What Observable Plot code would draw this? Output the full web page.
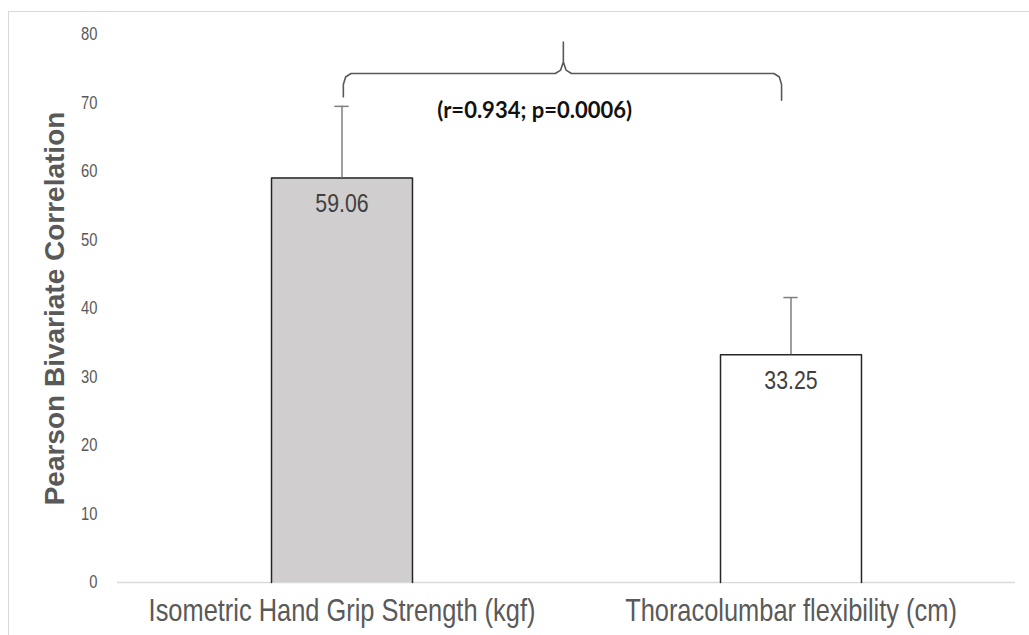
<!DOCTYPE html>
<html>
<head>
<meta charset="utf-8">
<script src="https://cdn.jsdelivr.net/npm/d3@7"></script>
<script src="https://cdn.jsdelivr.net/npm/@observablehq/plot@0.6"></script>
<style>
  html, body { margin: 0; padding: 0; background: #fff; overflow: hidden; }
  #frame { position: absolute; left: 8px; top: 11px; width: 1100px; height: 700px; border: 1.5px solid #d9d9d9; box-sizing: border-box; }
  #chart { position: absolute; left: 0; top: 0; }
</style>
</head>
<body>
<div id="frame"></div>
<div id="chart"></div>
<script>
// ---- data ----
const categories = ["Isometric Hand Grip Strength (kgf)", "Thoracolumbar flexibility (cm)"];
const means = [59.06, 33.25];
const errors = [10.45, 8.35];
const barFills = ["#d0cece", "#ffffff"];
const yTicks = [0, 10, 20, 30, 40, 50, 60, 70, 80];
const yLabel = "Pearson Bivariate Correlation";
const statLabel = "(r=0.934; p=0.0006)";
// brace annotation (x in category-slot units, y in data units)
const braceX = [0.503, 0.503, 0.508, 0.52, 0.975, 0.987, 0.993, 0.993, 0.993, 0.999, 1.011, 1.462, 1.474, 1.479, 1.479];
const braceY = [70.9, 72.7, 73.8, 74.3, 74.3, 74.8, 76.0, 78.9, 76.0, 74.8, 74.3, 74.3, 73.8, 72.7, 70.4];
const statPos = {x: 0.929, y: 68.9};

// ---- derived table ----
const half = 0.157;
const bars = categories.map((c, i) => ({
  cat: c, pos: i + 0.5, value: means[i], err: errors[i], fill: barFills[i]
}));
const outline = bars.flatMap(d => [
  {cat: d.cat, x: d.pos - half, y: 0},
  {cat: d.cat, x: d.pos - half, y: d.value},
  {cat: d.cat, x: d.pos + half, y: d.value},
  {cat: d.cat, x: d.pos + half, y: 0}
]);
const brace = braceX.map((x, i) => ({x, y: braceY[i]}));

const narrow = "'Liberation Sans', Arial, sans-serif"; // horizontally condensed after render
const sans = "'Liberation Sans', Arial, sans-serif";

const plot = Plot.plot({
  width: 1029,
  height: 635,
  marginLeft: 117,
  marginRight: 14,
  marginTop: 34,
  marginBottom: 53,
  style: {background: "transparent", overflow: "visible"},
  x: {type: "linear", domain: [0, 2], axis: null},
  y: {domain: [0, 80], axis: null},
  marks: [
    Plot.ruleY([0], {stroke: "#d9d9d9", strokeWidth: 1.5}),
    Plot.rectY(bars, {x1: d => d.pos - half, x2: d => d.pos + half, y1: 0, y2: "value", fill: d => d.fill}),
    Plot.line(outline, {x: "x", y: "y", z: "cat", stroke: "#262626", strokeWidth: 1.5}),
    Plot.ruleX(bars, {x: "pos", y1: "value", y2: d => d.value + d.err, stroke: "#7f7f7f", strokeWidth: 1.5}),
    Plot.ruleY(bars, {y: d => d.value + d.err, x1: d => d.pos - 0.016, x2: d => d.pos + 0.016, stroke: "#7f7f7f", strokeWidth: 1.5}),
    Plot.text(bars, {x: "pos", y: "value", text: d => d.value.toFixed(2), dy: 26, fontSize: 26, fontFamily: narrow, fill: "#404040", lineAnchor: "middle", stroke: "none"}),
    Plot.text(bars, {x: "pos", frameAnchor: "bottom", text: "cat", dy: 29, fontSize: 31, fontFamily: narrow, fill: "#595959", lineAnchor: "middle", textAnchor: "middle"}),
    Plot.text(yTicks, {y: d => d, frameAnchor: "left", text: d => String(d), dx: -20, textAnchor: "end", fontSize: 18, fontFamily: narrow, fill: "#595959", lineAnchor: "middle"}),
    Plot.text([yLabel], {frameAnchor: "left", text: d => d, rotate: -90, dx: -62, textAnchor: "middle", fontSize: 28, fontWeight: "bold", fontFamily: sans, fill: "#595959", lineAnchor: "middle"}),
    Plot.line(brace, {x: "x", y: "y", stroke: "#595959", strokeWidth: 1.6, curve: "linear"}),
    Plot.text([statLabel], {x: () => statPos.x, y: () => statPos.y, text: d => d, fontSize: 22, fontWeight: "bold", fontFamily: "Lato, 'Open Sans', sans-serif", fill: "#111", lineAnchor: "middle"})
  ]
});

// condense the Arial-Narrow-style texts horizontally around their anchors
const narrowSizes = new Set(["26", "31", "18"]);
plot.querySelectorAll("g[font-size]").forEach(g => {
  if (!narrowSizes.has(g.getAttribute("font-size"))) return;
  g.querySelectorAll("text").forEach(t => {
    const x = +t.getAttribute("x") || 0, y = +t.getAttribute("y") || 0;
    const tr = t.getAttribute("transform") || "";
    t.setAttribute("transform", `${tr} translate(${x},${y}) scale(0.82,1) translate(${-x},${-y})`);
  });
});
document.getElementById("chart").appendChild(plot);
</script>
</body>
</html>
